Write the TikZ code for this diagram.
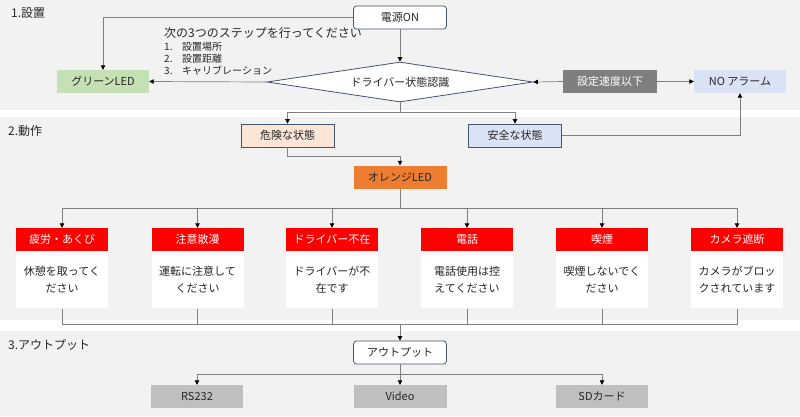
\documentclass[tikz,border=0pt]{standalone}
\usepackage{fontspec}
\setmainfont{Noto Sans CJK JP}
\usetikzlibrary{arrows.meta,shapes.geometric}
\definecolor{bg}{HTML}{F2F2F2}
\definecolor{bdr}{HTML}{44546A}
\definecolor{lineg}{HTML}{7F7F7F}
\definecolor{txt}{HTML}{262626}
\definecolor{greenf}{HTML}{C5E0B4}
\definecolor{peach}{HTML}{FBE5D6}
\definecolor{lblue}{HTML}{DAE3F3}
\definecolor{dgray}{HTML}{7F7F7F}
\definecolor{orangef}{HTML}{ED7D31}
\definecolor{redf}{HTML}{FF0000}
\definecolor{outg}{HTML}{BFBFBF}
\tikzset{
  box/.style={minimum width=92pt, minimum height=23pt, inner sep=0pt, text=txt, font=\fontsize{11}{13}\selectfont},
  bbox/.style={box, draw=bdr, line width=0.8pt},
  rbox/.style={bbox, rounded corners=3pt, fill=white},
  conn/.style={draw=lineg, line width=0.7pt},
  arr/.style={conn, -{Triangle[width=4.5pt,length=4.5pt,color=black]}},
  hdr/.style={box, fill=redf, text=white},
  body/.style={box, fill=white, minimum height=57pt, align=center, font=\fontsize{11}{17}\selectfont},
  sect/.style={anchor=west, text=txt, font=\fontsize{12}{14}\selectfont, inner sep=0pt},
}
\begin{document}
\begin{tikzpicture}[x=1pt,y=-1pt]
\useasboundingbox (0,0) rectangle (800,416);
\fill[white] (0,0) rectangle (800,416);
\fill[bg] (0,0) rectangle (800,110);
\fill[bg] (0,117) rectangle (800,320);
\fill[bg] (0,331) rectangle (800,416);

% section labels
\node[sect] (s1) at (11,13) {1.設置};
\node[sect] (s2) at (8,131) {2.動作};
\node[sect] (s3) at (8,345) {3.アウトプット};

% section 1
\node[rbox, minimum width=93pt] (pwr) at (400,17.5) {電源ON};
\node[diamond, draw=bdr, line width=0.8pt, fill=white, shape aspect=6.65, minimum width=266pt, minimum height=40pt, inner sep=0pt, text=txt, font=\fontsize{11}{13}\selectfont] (dia) at (400,82) {ドライバー状態認識};
\node[box, fill=greenf] (green) at (103,81.5) {グリーンLED};
\node[box, fill=dgray, text=white, minimum width=94pt] (spd) at (610,81.5) {設定速度以下};
\node[box, fill=lblue] (noal) at (740,81.5) {NO アラーム};
\node[anchor=west, inner sep=0pt, text=txt, font=\fontsize{12}{14}\selectfont] (steph) at (164,33) {次の3つのステップを行ってください};
\node[anchor=north west, inner sep=0pt, text=txt, align=left, font=\fontsize{10}{12}\selectfont] (steps) at (164,41.5)
  {\makebox[18pt][l]{1.}設置場所\\\makebox[18pt][l]{2.}設置距離\\\makebox[18pt][l]{3.}キャリブレーション};

\draw[arr] (pwr) -- (dia.north);
\draw[arr] (pwr.west) -| (green.north);
\draw[arr] (dia.west) -- (green.east);
\draw[arr] (spd.west) -- (dia.east);
\draw[arr] (spd.east) -- (noal.west);

% section 2
\node[bbox, fill=peach, minimum width=93pt] (danger) at (287.5,135.5) {危険な状態};
\node[bbox, fill=lblue, minimum width=93pt] (safe) at (515,135.5) {安全な状態};
\node[box, fill=orangef, minimum width=93pt] (orange) at (400,177) {オレンジLED};

\coordinate (j1) at (400,112);
\draw[conn] (dia.south) -- (j1);
\draw[arr] (j1) -| (danger.north);
\draw[arr] (j1) -| (safe.north);
\draw[arr] (safe.east) -| (noal.south);
\coordinate (j2) at (400,156);
\draw[conn] (danger.south) |- (j2);
\draw[arr] (j2) -- (orange.north);

\coordinate (j3) at (400,208);
\coordinate (j4) at (400,324);
\draw[conn] (orange.south) -- (j3);

\foreach \i/\cx/\h/\b in {
  1/62/{疲労・あくび}/{休憩を取ってく\\ださい},
  2/197.5/{注意散漫}/{運転に注意して\\ください},
  3/332/{ドライバー不在}/{ドライバーが不\\在です},
  4/467/{電話}/{電話使用は控\\えてください},
  5/602/{喫煙}/{喫煙しないでく\\ださい},
  6/737/{カメラ遮断}/{カメラがブロッ\\クされています}}{
  \node[hdr] (h\i) at (\cx,239.5) {\h};
  \node[body, anchor=north] (b\i) at (h\i.south) {\b};
  \draw[arr] (j3) -| (h\i.north);
  \draw[conn] (b\i.south) |- (j4);
}

% section 3
\node[rbox, minimum width=93pt] (out) at (400,352.5) {アウトプット};
\draw[arr] (j4) -- (out.north);
\node[box, fill=outg] (o1) at (197,396.5) {RS232};
\node[box, fill=outg, minimum width=93pt] (o2) at (400,396.5) {Video};
\node[box, fill=outg] (o3) at (602,396.5) {SDカード};
\coordinate (j5) at (400,374);
\draw[conn] (out.south) -- (j5);
\draw[arr] (j5) -| (o1.north);
\draw[arr] (j5) -- (o2.north);
\draw[arr] (j5) -| (o3.north);
\end{tikzpicture}
\end{document}
